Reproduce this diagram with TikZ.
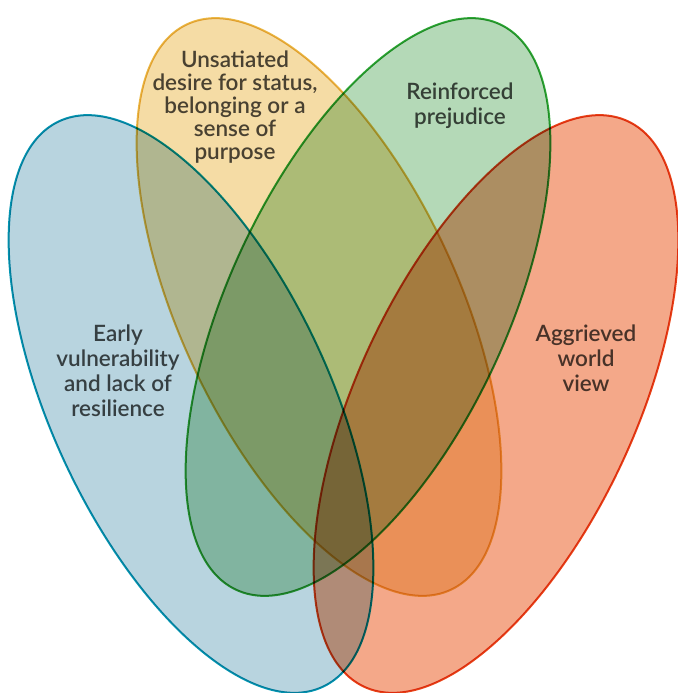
\documentclass[tikz,border=0pt]{standalone}
\usepackage{fontspec}
\setmainfont{Lato Semibold}
\usepackage{xcolor}
\usetikzlibrary{positioning}

\definecolor{bluefill}{HTML}{B8D4DF}
\definecolor{blueline}{HTML}{0496B2}
\definecolor{yellowfill}{HTML}{F5DCA5}
\definecolor{yellowline}{HTML}{EBB946}
\definecolor{greenfill}{HTML}{B4D9B7}
\definecolor{greenline}{HTML}{2EA836}
\definecolor{orangefill}{HTML}{F4A889}
\definecolor{orangeline}{HTML}{E84419}
\definecolor{labeltext}{HTML}{4C4C4C}

\tikzset{
    petal/.style={line width=2pt},
    petallabel/.style={align=center, text=labeltext, inner sep=0pt,
        font=\fontsize{22.5}{25}\selectfont}
}

\begin{document}
\begin{tikzpicture}[x=1pt, y=-1pt]
        \useasboundingbox (0,0) rectangle (677,693);

        \begin{scope}[blend group=multiply]
        % Petals (centre / tilt / colour)
        \foreach \cx/\cy/\tilt/\col in {191/404/25/blue, 319/307/25/yellow, 368/307/-25/green, 496/404/-25/orange} {
            \draw[petal, fill=\col fill, draw=\col line] (\cx,\cy) ellipse [x radius=139, y radius=312, rotate=\tilt];
        }

        % Labels
        \node[petallabel] (early) at (118, 371) {Early\\vulnerability\\and lack of\\resilience};
        \node[petallabel, font=\fontsize{22.5}{23.2}\selectfont] (unsatiated) at (235, 107) {Unsatiated\\desire for status,\\belonging or a\\sense of\\purpose};
        \node[petallabel] (reinforced) at (460, 106) {Reinforced\\prejudice};
        \node[petallabel] (aggrieved) at (586, 358) {Aggrieved\\world\\view};
        \end{scope}
    \end{tikzpicture}
\end{document}
